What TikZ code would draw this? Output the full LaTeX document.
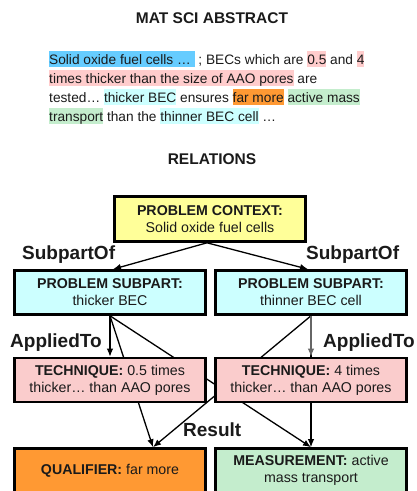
\documentclass[tikz,border=0pt]{standalone}
\usepackage{fontspec}
\setmainfont{Liberation Sans}
\usetikzlibrary{arrows.meta,backgrounds}
\definecolor{hlblue}{HTML}{66CCFF}
\definecolor{hlpink}{HTML}{FFCCCC}
\definecolor{hlcyan}{HTML}{CCFFFF}
\definecolor{hlorange}{HTML}{FF9933}
\definecolor{hlgreen}{HTML}{C4EDCD}
\definecolor{bxyellow}{HTML}{FFFF99}
\definecolor{bxcyan}{HTML}{CCFFFF}
\definecolor{bxpink}{HTML}{FACCCC}
\definecolor{bxorange}{HTML}{FF9933}
\definecolor{bxgreen}{HTML}{C4EDCD}
\definecolor{txt}{HTML}{1A1A1A}
\definecolor{grayarrow}{HTML}{666666}
\newcommand{\hlx}[2]{{\setlength{\fboxsep}{0pt}\colorbox{#1}{\rule[-2.5pt]{0pt}{15.7pt}#2}}}
\newcommand{\absfont}{\fontsize{13.7}{19}\selectfont}
\newcommand{\boxfont}{\fontsize{14.2}{17}\selectfont}
\tikzset{
  box/.style={draw=black, line width=2.6pt, minimum width=191pt, minimum height=44pt,
    align=center, inner sep=2pt, font=\boxfont, text=txt},
  lbl/.style={inner sep=0pt, font=\bfseries\fontsize{19}{22}\selectfont, text=txt, anchor=base west},
  ttl/.style={inner sep=0pt, font=\bfseries\fontsize{15.5}{18}\selectfont, text=txt, anchor=base},
  absline/.style={inner sep=0pt, font=\absfont, text=txt, anchor=base west},
  conn/.style={line width=1.3pt, draw=black, -{Latex[length=8pt,width=6.5pt]}},
}
\begin{document}
\begin{tikzpicture}[x=1pt,y=-1pt]
\useasboundingbox (0,0) rectangle (416,491);
\clip (0,0) rectangle (416,491);
% titles
\node[ttl] (t1) at (212,23.3) {MAT SCI ABSTRACT};
\node[ttl] (t2) at (212,164) {RELATIONS};
% abstract
\node[absline] (a1) at (49,64.5) {\hlx{hlblue}{Solid oxide fuel cells … } ; BECs which are \hlx{hlpink}{0.5} and \hlx{hlpink}{4}};
\node[absline] (a2) at (49,83.5) {\hlx{hlpink}{times thicker than the size of AAO pores} are};
\node[absline] (a3) at (49,102.5) {tested… \hlx{hlcyan}{thicker BEC} ensures \hlx{hlorange}{far more} \hlx{hlgreen}{active mass}};
\node[absline] (a4) at (49,121.5) {\hlx{hlgreen}{transport} than the \hlx{hlcyan}{thinner BEC cell} …};
% boxes
\node[box, fill=bxyellow, minimum height=45pt] (ctx) at (210,219) {\textbf{PROBLEM CONTEXT:}\\Solid oxide fuel cells};
\node[box, fill=bxcyan] (sub1) at (110,292.5) {\textbf{PROBLEM SUBPART:}\\thicker BEC};
\node[box, fill=bxcyan] (sub2) at (311,292.5) {\textbf{PROBLEM SUBPART:}\\thinner BEC cell};
\node[box, fill=bxpink] (tech1) at (110,380) {\textbf{TECHNIQUE:} 0.5 times\\thicker… than AAO pores};
\node[box, fill=bxpink] (tech2) at (311,380) {\textbf{TECHNIQUE:} 4 times\\thicker… than AAO pores};
\node[box, fill=bxorange] (qual) at (110,470.5) {\textbf{QUALIFIER:} far more};
\node[box, fill=bxgreen] (meas) at (311,470.5) {\textbf{MEASUREMENT:} active\\mass transport};
% labels
\node[lbl] (l1) at (22,259) {SubpartOf};
\node[lbl] (l2) at (306,259) {SubpartOf};
\node[lbl] (l3) at (10,347) {AppliedTo};
\node[lbl] (l4) at (323,347) {AppliedTo};
\node[lbl] (l5) at (183,436) {Result};
% connectors
\draw[conn] ([xshift=-3pt]ctx.south) -- ([xshift=3pt]sub1.north);
\draw[conn] ([xshift=-3pt]ctx.south) -- ([xshift=-3pt]sub2.north);
\draw[conn] (sub1.south) -- (tech1.north);
\draw[conn, draw=grayarrow] (sub2.south) -- (tech2.north);
\begin{pgfonlayer}{background}
\draw[conn] (sub1.south) -- ([xshift=43pt]qual.north);
\draw[conn] (sub1.south) -- (meas.north);
\draw[conn] (sub2.south) -- ([xshift=43pt]qual.north);
\draw[conn] (sub2.south) -- (meas.north);
\end{pgfonlayer}
\end{tikzpicture}
\end{document}
